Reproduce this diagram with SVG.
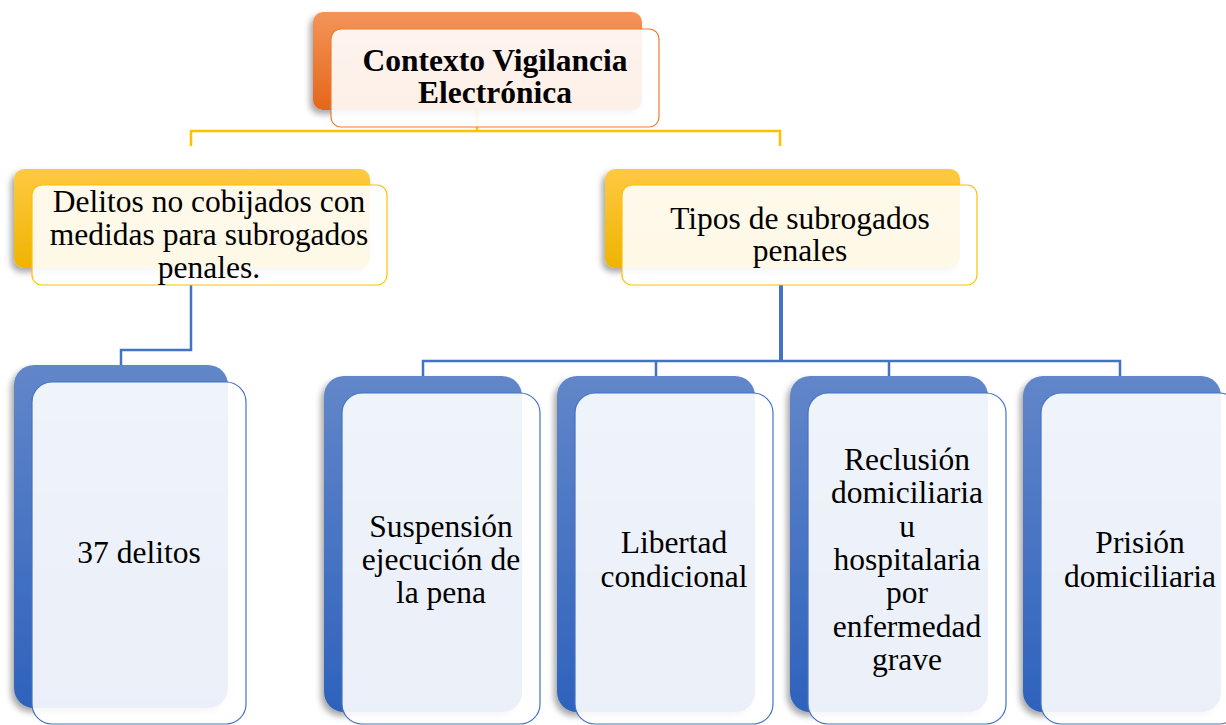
<svg xmlns="http://www.w3.org/2000/svg" width="1226" height="725" viewBox="0 0 1226 725">
<defs>
<linearGradient id="gOr" x1="0" y1="0" x2="0" y2="1"><stop offset="0" stop-color="#f39459"/><stop offset="1" stop-color="#e5661a"/></linearGradient>
<linearGradient id="gYe" x1="0" y1="0" x2="0" y2="1"><stop offset="0" stop-color="#ffc943"/><stop offset="1" stop-color="#eeb400"/></linearGradient>
<linearGradient id="gBl" x1="0" y1="0" x2="0" y2="1"><stop offset="0" stop-color="#6286c9"/><stop offset="1" stop-color="#2e62bc"/></linearGradient>
<filter id="sh" x="-20%" y="-20%" width="140%" height="140%"><feDropShadow dx="-3" dy="4" stdDeviation="3" flood-color="#000" flood-opacity="0.35"/></filter>
<style>
text{font-family:"Liberation Serif","Times New Roman",serif;font-size:31.5px;fill:#000;text-anchor:middle}
.b{font-weight:bold}
.frO{fill:#fff;fill-opacity:0.9;stroke:#ed7d31;stroke-width:1.2}
.frY{fill:#fff;fill-opacity:0.9;stroke:#ffc000;stroke-width:1.2}
.frB{fill:#fff;fill-opacity:0.9;stroke:#4472c4;stroke-width:1.2}
.cy{fill:none;stroke:#ffc000;stroke-width:2.5}
.cb{fill:none;stroke:#4472c4;stroke-width:2.5}
</style>
</defs>
<g id="connectors">
<path class="cy" d="M477 110V131M191 146V131H780V146"/>
<path class="cb" d="M191 285V350H121V366"/>
<path class="cb" style="stroke-width:4" d="M781 285V361"/>
<path class="cb" d="M423 376V361H1120V376M656 361V376M889 361V376"/>
</g>
<g id="n-contexto">
<rect x="313" y="12" width="329" height="98" rx="10" fill="url(#gOr)" filter="url(#sh)"/>
<rect class="frO" x="331" y="29" width="328" height="98" rx="10"/>
<text class="b" x="495" y="71">Contexto Vigilancia</text>
<text class="b" x="495" y="103">Electrónica</text>
</g>
<g id="n-delitos-no">
<rect x="14" y="169" width="356" height="99" rx="10" fill="url(#gYe)" filter="url(#sh)"/>
<rect class="frY" x="32" y="185" width="355" height="100" rx="10"/>
<text x="209" y="212">Delitos no cobijados con</text>
<text x="209" y="245">medidas para subrogados</text>
<text x="209" y="278">penales.</text>
</g>
<g id="n-tipos">
<rect x="605" y="169" width="355" height="99" rx="10" fill="url(#gYe)" filter="url(#sh)"/>
<rect class="frY" x="622" y="185" width="355" height="100" rx="10"/>
<text x="800" y="229">Tipos de subrogados</text>
<text x="800" y="261">penales</text>
</g>
<g id="n-37">
<rect x="14" y="365" width="214" height="343" rx="20" fill="url(#gBl)" filter="url(#sh)"/>
<rect class="frB" x="32" y="382" width="214" height="342" rx="20"/>
<text x="139" y="563">37 delitos</text>
</g>
<g id="n-suspension">
<rect x="324" y="376" width="198" height="336" rx="20" fill="url(#gBl)" filter="url(#sh)"/>
<rect class="frB" x="342" y="393" width="198" height="331" rx="20"/>
<text x="441" y="537">Suspensión</text>
<text x="441" y="570">ejecución de</text>
<text x="441" y="603">la pena</text>
</g>
<g id="n-libertad">
<rect x="557" y="376" width="198" height="336" rx="20" fill="url(#gBl)" filter="url(#sh)"/>
<rect class="frB" x="575" y="393" width="198" height="331" rx="20"/>
<text x="674" y="553">Libertad</text>
<text x="674" y="587">condicional</text>
</g>
<g id="n-reclusion">
<rect x="790" y="376" width="198" height="336" rx="20" fill="url(#gBl)" filter="url(#sh)"/>
<rect class="frB" x="808" y="393" width="198" height="331" rx="20"/>
<text x="907" y="470">Reclusión</text>
<text x="907" y="503">domiciliaria</text>
<text x="907" y="537">u</text>
<text x="907" y="570">hospitalaria</text>
<text x="907" y="603">por</text>
<text x="907" y="637">enfermedad</text>
<text x="907" y="670">grave</text>
</g>
<g id="n-prision">
<rect x="1023" y="376" width="198" height="336" rx="20" fill="url(#gBl)" filter="url(#sh)"/>
<rect class="frB" x="1041" y="393" width="198" height="331" rx="20"/>
<text x="1140" y="553">Prisión</text>
<text x="1140" y="587">domiciliaria</text>
</g>
</svg>
